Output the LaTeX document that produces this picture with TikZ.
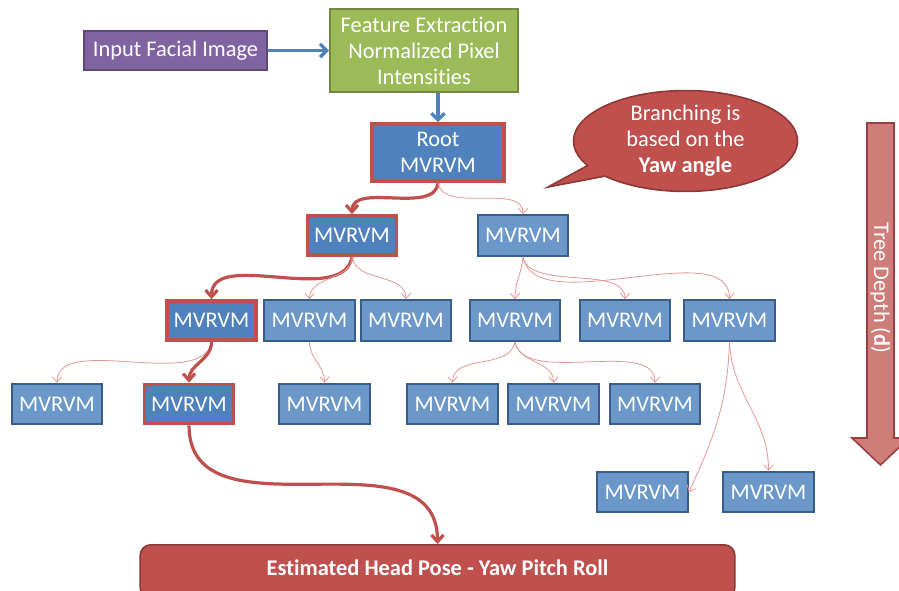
\documentclass[tikz,border=0pt]{standalone}
\usepackage{fontspec}
\setmainfont{Carlito}[Ligatures=NoCommon]
\usetikzlibrary{arrows.meta,shapes.callouts}
\definecolor{bfill}{RGB}{79,129,189}
\definecolor{bfilllt}{RGB}{108,151,201}
\definecolor{bdraw}{RGB}{56,93,138}
\definecolor{rfill}{RGB}{192,80,77}
\definecolor{rdraw}{RGB}{140,56,54}
\definecolor{thinred}{RGB}{226,150,148}
\definecolor{pfill}{RGB}{128,100,162}
\definecolor{pdraw}{RGB}{94,73,121}
\definecolor{gfill}{RGB}{155,187,89}
\definecolor{gdraw}{RGB}{113,137,63}
\definecolor{dfill}{RGB}{208,124,121}
\begin{document}
\begin{tikzpicture}[x=0.75pt,y=-0.75pt,
  txt/.style={text=white,font=\fontsize{16.8}{19.5}\selectfont,align=center,inner sep=0pt},
  mv/.style={txt,draw=bdraw,fill=bfilllt,line width=1.5pt,minimum width=68pt,minimum height=30.5pt},
  mvsel/.style={txt,draw=rfill,fill=bfill,line width=2.6pt,minimum width=67pt,minimum height=29.5pt},
  thin/.style={draw=thinred,line width=0.6pt,-{Straight Barb[length=4pt,width=7pt]}},
  thick/.style={draw=rfill,line width=2.4pt,-{Straight Barb[length=5pt,width=9pt]}},
  blue/.style={draw=bfill,line width=2.4pt,-{Straight Barb[length=5pt,width=10pt]}}]
\useasboundingbox (0,0) rectangle (899,590);
\begin{scope}
\clip (0,0) rectangle (899,590);
% tree depth arrow
\draw[fill=dfill,draw=rfill!80!black,line width=1.2pt]
  (867,123) -- (894,123) -- (894,438) -- (909,438) -- (880.5,465) -- (852,438) -- (867,438) -- cycle;
\node[txt,rotate=-90] (depth) at (880.5,288) {Tree Depth (\textbf{d})};
% bottom bar
\node[txt,draw=rdraw,fill=rfill,line width=1.2pt,rounded corners=8pt,minimum width=446pt,minimum height=40pt,anchor=north,font=\fontsize{16.8}{19.5}\selectfont\bfseries] (bar) at (437.5,544) {\raisebox{6pt}{Estimated Head Pose - Yaw Pitch Roll}};
\end{scope}
% top
\node[txt,draw=pdraw,fill=pfill,line width=1.5pt,minimum width=137pt,minimum height=29pt] (in) at (175.5,50.5) {Input Facial Image};
\node[txt,draw=gdraw,fill=gfill,line width=1.5pt,minimum width=141pt,minimum height=62pt] (fe) at (424,50.5) {Feature Extraction\\Normalized Pixel\\Intensities};
\node[txt,draw=rfill,fill=bfill,line width=2.6pt,minimum width=99pt,minimum height=43pt] (root) at (438,152.5) {Root\\MVRVM};
\draw[blue] (in) -- (fe);
\draw[blue] (fe.south -| root.north) -- (root.north);
% callout
\node[txt,ellipse callout,draw=rdraw,fill=rfill,line width=1.2pt,minimum width=168pt,minimum height=72pt,callout absolute pointer={(548,187)}] (bub) at (685.5,141) {Branching is\\based on the\\\textbf{Yaw angle}};
% level 1
\node[mvsel] (a1) at (352,235.5) {MVRVM};
\node[mv] (a2) at (523,235.5) {MVRVM};
% level 2
\node[mvsel] (b1) at (211.5,320.5) {MVRVM};
\node[mv] (b2) at (309.5,320.5) {MVRVM};
\node[mv] (b3) at (406,320.5) {MVRVM};
\node[mv] (b4) at (515,320.5) {MVRVM};
\node[mv] (b5) at (625,320.5) {MVRVM};
\node[mv] (b6) at (729.5,320.5) {MVRVM};
% level 3
\node[mv] (c1) at (57,404) {MVRVM};
\node[mvsel] (c2) at (189,404) {MVRVM};
\node[mv] (c3) at (324.5,404) {MVRVM};
\node[mv] (c4) at (452.5,404) {MVRVM};
\node[mv] (c5) at (553.5,404) {MVRVM};
\node[mv] (c6) at (655,404) {MVRVM};
% level 4
\node[mv] (d1) at (642.5,492) {MVRVM};
\node[mv] (d2) at (768.5,492) {MVRVM};
% connectors
\draw[thick] (root.south) to[out=-95,in=90,looseness=0.9] (a1.north);
\draw[thin] (root.south) to[out=-80,in=90,looseness=0.9] (a2.north);
\draw[thick] (a1.south) to[out=-100,in=90,looseness=0.9] (b1.north);
\draw[thin] (a1.south) to[out=-90,in=90] (b2.north);
\draw[thin] (a1.south) to[out=-80,in=90] (b3.north);
\draw[thin] (a2.south) to[out=-95,in=90] (b4.north);
\draw[thin] (a2.south) to[out=-80,in=90,looseness=0.8] (b5.north);
\draw[thin] (a2.south) to[out=-80,in=90,looseness=0.8] (b6.north);
\draw[thin] (b1.south) to[out=-100,in=90,looseness=0.8] (c1.north);
\draw[thick] (b1.south) to[out=-90,in=90] (c2.north);
\draw[thin] (b2.south) to[out=-90,in=90] (c3.north);
\draw[thin] (b4.south) to[out=-100,in=90] (c4.north);
\draw[thin] (b4.south) to[out=-80,in=90] (c5.north);
\draw[thin] (b4.south) to[out=-80,in=90,looseness=0.8] (c6.north);
\draw[thin] (b6.south) to[out=-92,in=65] (d1.east);
\draw[thin] (b6.south) to[out=-88,in=90] (d2.north);
\draw[thick] (c2.south) to[out=-90,in=90,looseness=1.1] (bar.north);
\end{tikzpicture}
\end{document}
